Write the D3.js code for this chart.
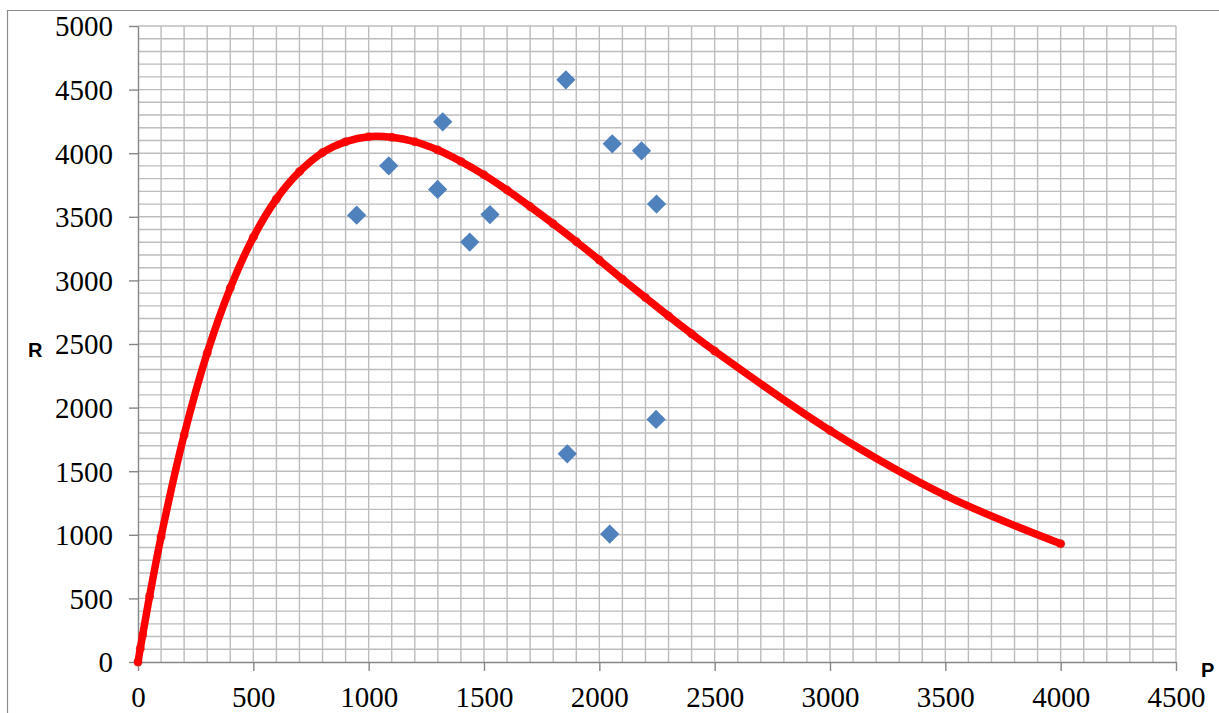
<!DOCTYPE html>
<html>
<head>
<meta charset="utf-8">
<script src="https://cdn.jsdelivr.net/npm/d3@7"></script>
<style>
  html, body { margin: 0; padding: 0; background: #fff; }
  svg { display: block; }
</style>
</head>
<body>
<svg id="chart" width="1219" height="713"></svg>
<script>
// observed (P, R) pairs - blue diamonds
const obsP = [948, 1087, 1299, 1321, 1438, 1526, 1855, 2056, 2183, 2248, 1861, 2045, 2246];
const obsR = [3513, 3901, 3715, 4247, 3301, 3518, 4577, 4074, 4019, 3600, 1637, 1006, 1907];

// fitted curve points - red line
const fitP = [0, 10, 20, 50, 100, 200, 300, 400, 500, 600, 700, 800, 900, 1000, 1100, 1200, 1300,
              1400, 1500, 1600, 1700, 1800, 1900, 2000, 2100, 2200, 2300, 2400, 2500, 3000, 3500, 4000];
const fitR = [0, 107, 212, 515, 985, 1785, 2430, 2940, 3340, 3640, 3855, 4005, 4090, 4130, 4125, 4090, 4025,
              3935, 3830, 3710, 3580, 3445, 3305, 3160, 3010, 2865, 2720, 2580, 2445, 1820, 1310, 930];

const xTicks = [0, 500, 1000, 1500, 2000, 2500, 3000, 3500, 4000, 4500];
const yTicks = [0, 500, 1000, 1500, 2000, 2500, 3000, 3500, 4000, 4500, 5000];

const svg = d3.select("#chart");

const x = d3.scaleLinear().domain([0, 4500]).range([138, 1176]);
const y = d3.scaleLinear().domain([0, 5000]).range([662, 26]);

// outer frame
svg.append("path")
    .attr("d", "M7.5,713 L7.5,10.5 L1219,10.5")
    .attr("fill", "none")
    .attr("stroke", "#8c8c8c")
    .attr("stroke-width", 1.2);

// grid every 100
const grid = svg.append("g").attr("class", "grid");
grid.selectAll(".vg").data(d3.range(100, 4501, 100))
    .enter().append("line")
    .attr("x1", d => x(d)).attr("x2", d => x(d))
    .attr("y1", y(0)).attr("y2", y(5000))
    .attr("stroke", "#bdbdbd")
    .attr("stroke-width", 1.4);
grid.selectAll(".hg").data(d3.range(100, 5001, 100))
    .enter().append("line")
    .attr("x1", x(0)).attr("x2", x(4500))
    .attr("y1", d => y(d)).attr("y2", d => y(d))
    .attr("stroke", "#bdbdbd")
    .attr("stroke-width", 1.4);

// axes
const xAxis = d3.axisBottom(x).tickValues(xTicks).tickSize(9).tickSizeOuter(0).tickFormat(d3.format("d"));
const yAxis = d3.axisLeft(y).tickValues(yTicks).tickSize(9).tickSizeOuter(0).tickFormat(d3.format("d"));

const gx = svg.append("g").attr("transform", "translate(0," + y(0) + ")").call(xAxis);
const gy = svg.append("g").attr("transform", "translate(" + x(0) + ",0)").call(yAxis);

[gx, gy].forEach(g => {
    g.selectAll("path, line").attr("stroke", "#868686").attr("stroke-width", 1.4);
    g.selectAll("text")
        .attr("fill", "#000")
        .attr("font-family", "'Liberation Serif', 'Times New Roman', serif")
        .attr("font-size", 29);
});
gx.selectAll("text").attr("y", 24).attr("dy", "0.71em");
gy.selectAll("text").attr("x", -25).attr("dy", "0.34em");

// axis titles
svg.append("text")
    .attr("x", 28).attr("y", 357)
    .attr("font-family", "'Liberation Sans', Arial, sans-serif")
    .attr("font-weight", "bold")
    .attr("font-size", 20)
    .text("R");
svg.append("text")
    .attr("x", 1201).attr("y", 677)
    .attr("font-family", "'Liberation Sans', Arial, sans-serif")
    .attr("font-weight", "bold")
    .attr("font-size", 20)
    .text("P");

// observed diamonds
const obs = obsP.map((p, i) => ({ p: p, r: obsR[i] }));
svg.append("g").selectAll("path").data(obs)
    .enter().append("path")
    .attr("d", d3.symbol(d3.symbolSquare, 185))
    .attr("transform", d => "translate(" + [x(d.p), y(d.r)] + ") rotate(45)")
    .attr("fill", "#4f81bd");

// fitted curve
const fit = fitP.map((p, i) => ({ p: p, r: fitR[i] }));
svg.append("g").selectAll("circle").data(fit)
    .enter().append("circle")
    .attr("cx", d => x(d.p))
    .attr("cy", d => y(d.r))
    .attr("r", 4.5)
    .attr("fill", "#cf4a47");

const line = d3.line()
    .x(d => x(d.p))
    .y(d => y(d.r))
    .curve(d3.curveCatmullRom.alpha(0.5));

svg.append("path")
    .datum(fit)
    .attr("d", line)
    .attr("fill", "none")
    .attr("stroke", "#ff0000")
    .attr("stroke-width", 7.5)
    .attr("stroke-linecap", "round")
    .attr("stroke-linejoin", "round");
</script>
</body>
</html>
